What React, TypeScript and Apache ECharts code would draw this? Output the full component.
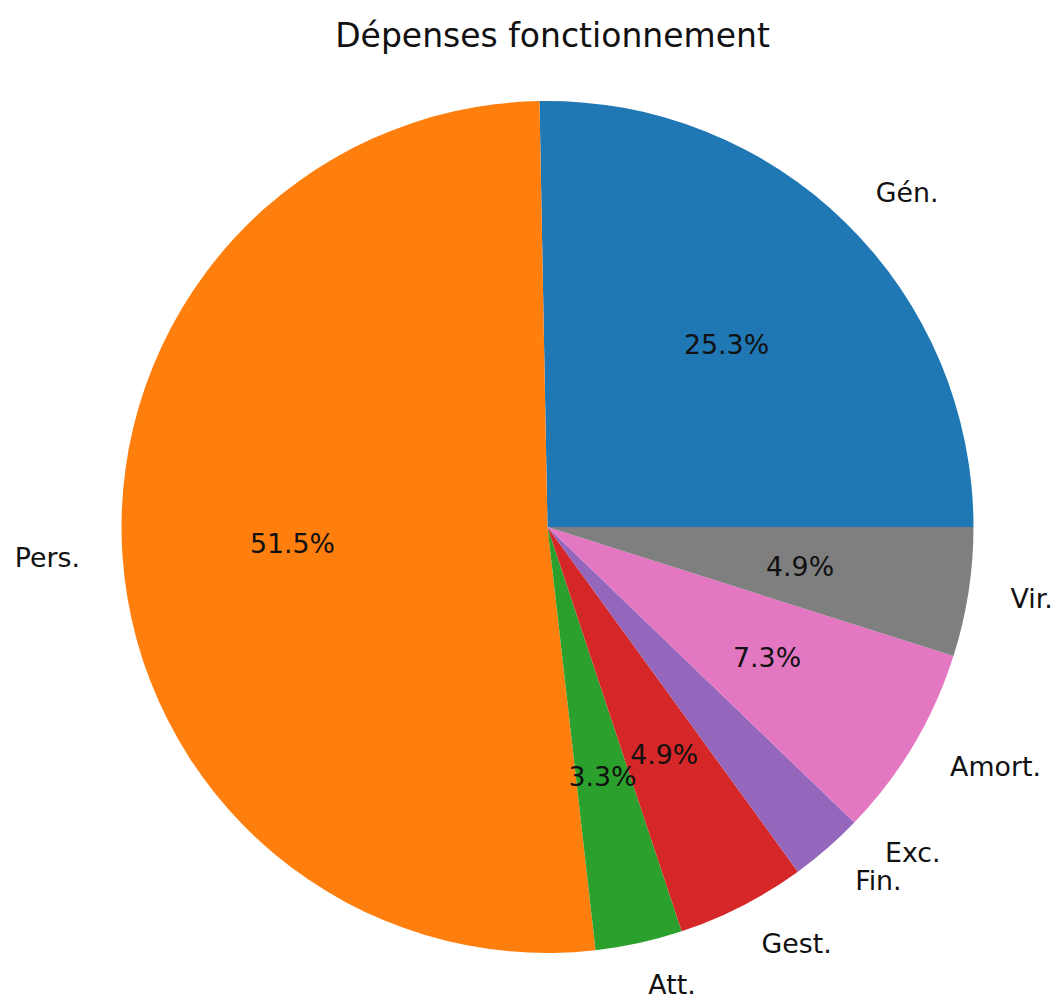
import React, { useEffect, useRef } from "react";
import * as echarts from "echarts";

const titleText = "Dépenses fonctionnement";
const categories = ["Gén.", "Pers.", "Att.", "Gest.", "Fin.", "Exc.", "Amort.", "Vir."];
const values = [25.3, 51.5, 3.3, 4.9, 2.8, 0, 7.3, 4.9];
const colors = ["#1f77b4", "#ff7f0e", "#2ca02c", "#d62728", "#9467bd", "#8c564b", "#e377c2", "#7f7f7f"];
const pctThreshold = 3;

export default function App() {
  const ref = useRef<HTMLDivElement>(null);
  useEffect(() => {
    if (!ref.current) return;
    const chart = echarts.init(ref.current, null, { renderer: "svg" });
    const cx = 547.5;
    const cy = 527;
    const R = 426;
    const total = values.reduce((a, b) => a + b, 0);
    const font = "DejaVu Sans";
    const labelSize = 26.8;
    const data = categories.map((name, i) => ({
      name,
      value: values[i],
      itemStyle: { color: colors[i] },
    }));
    // percentage labels: split over two transparent series (alternating slices)
    const pctSeries = (parity: number) => ({
      type: "pie",
      center: [cx, cy],
      radius: [R * 0.2 - 6, R],
      startAngle: 0,
      clockwise: false,
      avoidLabelOverlap: false,
      minShowLabelAngle: 0,
      labelLayout: { hideOverlap: false },
      silent: true,
      data: categories.map((name, i) => ({
        name,
        value: values[i],
        itemStyle: { color: "transparent" },
        label: { show: i % 2 === parity },
      })),
      label: {
        show: true,
        position: "inside",
        rotate: 0,
        fontFamily: font,
        fontSize: labelSize,
        color: "#111111",
        formatter: (p: any) => {
          const pct = (p.value / total) * 100;
          return pct > pctThreshold ? pct.toFixed(1) + "%" : "";
        },
      },
      labelLine: { show: false },
      emphasis: { disabled: true },
    });
    chart.setOption({
      animation: false,
      backgroundColor: "#ffffff",
      title: {
        text: titleText,
        left: cx,
        top: 14,
        textAlign: "center",
        textStyle: { fontFamily: font, fontSize: 33, fontWeight: "normal", color: "#111111", lineHeight: 33 },
      },
      series: [
        {
          type: "pie",
          center: [cx, cy],
          radius: [0, R],
          startAngle: 0,
          clockwise: false,
          avoidLabelOverlap: false,
          minShowLabelAngle: 0,
          silent: true,
          data,
          label: {
            show: true,
            position: "outside",
            distanceToLabelLine: 0,
            fontFamily: font,
            fontSize: labelSize,
            color: "#111111",
            formatter: (p: any) => p.name,
          },
          labelLine: { show: false, length: R * 0.1, length2: 0 },
          emphasis: { disabled: true },
        },
        pctSeries(0),
        pctSeries(1),
      ],
    });
    return () => chart.dispose();
  }, []);
  return (
    <div
      ref={ref}
      style={{ position: "fixed", left: 0, top: 0, width: 1056, height: 998 }}
    />
  );
}
